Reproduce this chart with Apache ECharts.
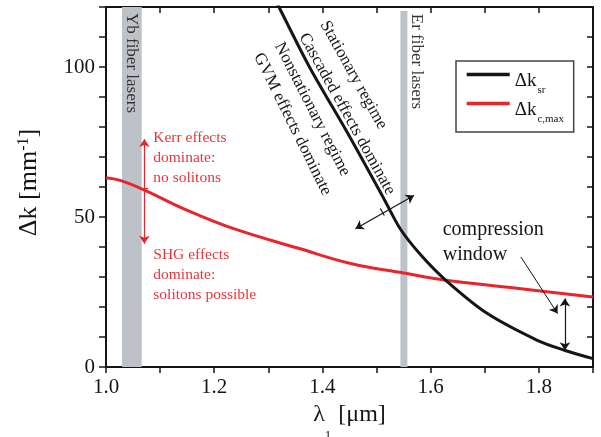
<!DOCTYPE html>
<html>
<head>
<meta charset="utf-8">
<script src="https://cdn.jsdelivr.net/npm/echarts@6/dist/echarts.min.js"></script>
<style>
html,body{margin:0;padding:0;background:#fff;}
#c{width:601px;height:437px;}
</style>
</head>
<body>
<div id="c"></div>
<script>
// ---- data ----
const lambdaSr = [1.30, 1.321, 1.376, 1.447, 1.515, 1.544, 1.5815, 1.628, 1.705, 1.797, 1.847, 1.9];
const dkSr     = [127, 119.5, 100, 77.8, 55.6, 46.0, 37.4, 28.9, 17.8, 8.9, 5.6, 2.8];
const lambdaC  = [1.0, 1.026, 1.072, 1.143, 1.236, 1.359, 1.452, 1.55, 1.628, 1.767, 1.9];
const dkCmax   = [63.1, 62.2, 58.9, 52.8, 46.1, 39.4, 34.5, 31.3, 28.9, 26.1, 23.3];
const xTicks = {min: 1.0, max: 1.9, step: 0.1};
const yTicks = {min: 0, max: 120, step: 10};
const bandYb = [1.0296, 1.066, 120];
const bandEr = [1.544, 1.557, 118.7];
const arrowCross = [[1.4611, 46.1], [1.5691, 57.2]];
const tickCross = [[1.5069, 52.83], [1.5143, 50.5]];
const arrowKerr = [[1.0709, 76], [1.0709, 41.1]];
const tickKerr = [[1.064, 59.6], [1.078, 59.6]];
const arrowWindow = [[1.8481, 22.8], [1.8481, 5.6]];
const arrowPointer = [[1.7667, 36.7], [1.8346, 17.8]];

const FONT = 'Liberation Serif';
const RED = '#e8252b';
const RED_TXT = '#e8353c';
const INK = '#151515';

const zip = (a, b) => a.map((v, i) => [v, b[i]]);

const chart = echarts.init(document.getElementById('c'), null, {renderer: 'canvas'});

const xLab = v => { const r = Math.round(v * 10); return r % 2 === 0 ? (r / 10).toFixed(1) : ''; };
const yLab = v => (Math.round(v) % 50 === 0 ? String(Math.round(v)) : '');

const option = {
  animation: false,
  backgroundColor: '#fff',
  grid: {left: 106, right: 8, top: 7, bottom: 70, containLabel: false, outerBoundsMode: 'none'},
  xAxis: [{
    type: 'value', position: 'bottom', min: xTicks.min, max: xTicks.max, interval: xTicks.step,
    axisLine: {onZero: false, lineStyle: {color: INK, width: 2}},
    axisTick: {inside: false, length: 6, lineStyle: {color: INK, width: 1.5}},
    axisLabel: {margin: 10, fontFamily: FONT, fontSize: 21, color: INK, formatter: xLab},
    splitLine: {show: false},
    name: '{a|λ}{s|1}{a| [μm]}', nameLocation: 'middle', nameGap: 32,
    nameTextStyle: {fontFamily: FONT, fontSize: 24, rich: {
      a: {fontFamily: FONT, fontSize: 24, lineHeight: 26, verticalAlign: 'top', color: INK},
      s: {fontFamily: FONT, fontSize: 13, lineHeight: 14, verticalAlign: 'top', padding: [26, 1, 0, 0], color: INK}
    }}
  }, {
    type: 'value', position: 'top', min: xTicks.min, max: xTicks.max, interval: xTicks.step,
    axisLine: {onZero: false, lineStyle: {color: INK, width: 2}},
    axisTick: {inside: true, length: 6, lineStyle: {color: INK, width: 1.5}},
    axisLabel: {show: false}, splitLine: {show: false}
  }],
  yAxis: [{
    type: 'value', position: 'left', min: yTicks.min, max: yTicks.max, interval: yTicks.step,
    axisLine: {onZero: false, lineStyle: {color: INK, width: 2}},
    axisTick: {inside: false, length: 7, lineStyle: {color: INK, width: 1.5}},
    axisLabel: {margin: 11, fontFamily: FONT, fontSize: 21, color: INK, formatter: yLab},
    splitLine: {show: false},
    name: '{a|Δk [mm}{p|-1}{a|]}', nameLocation: 'middle', nameRotate: 90, nameGap: 55,
    nameTextStyle: {fontFamily: FONT, fontSize: 26, padding: [0, 0, 0, 9], rich: {
      a: {fontFamily: FONT, fontSize: 26, lineHeight: 27, verticalAlign: 'bottom', color: INK},
      p: {fontFamily: FONT, fontSize: 16, lineHeight: 15, verticalAlign: 'top', padding: [0, 0, 21, 0], color: INK}
    }}
  }, {
    type: 'value', position: 'right', min: yTicks.min, max: yTicks.max, interval: yTicks.step,
    axisLine: {onZero: false, lineStyle: {color: INK, width: 2}},
    axisTick: {inside: true, length: 6, lineStyle: {color: INK, width: 1.5}},
    axisLabel: {show: false}, splitLine: {show: false}
  }],
  legend: {
    data: ['sr', 'cmax'], orient: 'vertical', left: 456, top: 61,
    icon: 'rect', itemWidth: 43, itemHeight: 3.5, itemGap: -3,
    padding: [2.5, 9.7, 7.5, 10.7],
    borderColor: '#444', borderWidth: 1.5, backgroundColor: '#fff',
    formatter: n => n === 'sr' ? '{a|Δk}{s|sr}' : '{a|Δk}{s|c,max}',
    textStyle: {fontFamily: FONT, fontSize: 18, rich: {
      a: {fontFamily: FONT, fontSize: 19, lineHeight: 22, verticalAlign: 'top', padding: [8, 0, 0, 0], color: INK},
      s: {fontFamily: FONT, fontSize: 11, lineHeight: 12, verticalAlign: 'top', padding: [21, 0, 0, 1], color: INK}
    }}
  },
  series: [
    {
      name: 'bands', type: 'line', data: [], z: 1, silent: true,
      markArea: {silent: true, itemStyle: {color: '#bdc2c8'}, data: [
        [{xAxis: bandYb[0], yAxis: 0}, {xAxis: bandYb[1], yAxis: bandYb[2]}],
        [{xAxis: bandEr[0], yAxis: 0}, {xAxis: bandEr[1], yAxis: bandEr[2]}]
      ]}
    },
    {
      name: 'cmax', type: 'line', data: zip(lambdaC, dkCmax), smooth: 0.4, symbol: 'none', z: 3,
      lineStyle: {color: RED, width: 3}, itemStyle: {color: RED}
    },
    {
      name: 'sr', type: 'line', data: zip(lambdaSr, dkSr), smooth: 0.3, symbol: 'none', z: 4,
      lineStyle: {color: INK, width: 3}, itemStyle: {color: INK}
    },
    {
      name: 'arrowsBlack', type: 'lines', coordinateSystem: 'cartesian2d', z: 5,
      symbol: ['arrow', 'arrow'], symbolSize: 8,
      lineStyle: {color: INK, width: 1.2, opacity: 1},
      data: [{coords: arrowCross}, {coords: arrowWindow}]
    },
    {
      name: 'arrowPointer', type: 'lines', coordinateSystem: 'cartesian2d', z: 5,
      symbol: ['none', 'arrow'], symbolSize: 8,
      lineStyle: {color: INK, width: 1, opacity: 1},
      data: [{coords: arrowPointer}]
    },
    {
      name: 'ticksBlack', type: 'lines', coordinateSystem: 'cartesian2d', z: 5,
      symbol: ['none', 'none'],
      lineStyle: {color: INK, width: 1.2, opacity: 1},
      data: [{coords: tickCross}]
    },
    {
      name: 'arrowRed', type: 'lines', coordinateSystem: 'cartesian2d', z: 5,
      symbol: ['arrow', 'arrow'], symbolSize: 8,
      lineStyle: {color: RED, width: 1.2, opacity: 1},
      data: [{coords: arrowKerr}, {coords: tickKerr, symbol: ['none', 'none']}]
    }
  ],
  graphic: [
    {type: 'text', x: 131.7, y: 63, rotation: -Math.PI / 2, z: 50,
      style: {text: 'Yb fiber lasers', font: '17px "Liberation Serif"', fill: '#333', align: 'center', verticalAlign: 'middle'}},
    {type: 'text', x: 416.7, y: 61.5, rotation: -Math.PI / 2, z: 50,
      style: {text: 'Er fiber lasers', font: '17px "Liberation Serif"', fill: '#333', align: 'center', verticalAlign: 'middle'}},
    {type: 'text', x: 353.5, y: 75, rotation: -1.063, z: 50,
      style: {text: 'Stationary regime', font: '17px "Liberation Serif"', fill: INK, align: 'center', verticalAlign: 'middle'}},
    {type: 'text', x: 347, y: 114, rotation: -1.066, z: 50,
      style: {text: 'Cascaded effects dominate', font: '17px "Liberation Serif"', fill: INK, align: 'center', verticalAlign: 'middle'}},
    {type: 'text', x: 312.2, y: 109.2, rotation: -1.098, z: 50,
      style: {text: 'Nonstationary regime', font: '17px "Liberation Serif"', fill: INK, align: 'center', verticalAlign: 'middle'}},
    {type: 'text', x: 292.5, y: 124.2, rotation: -1.112, z: 50,
      style: {text: 'GVM effects dominate', font: '17px "Liberation Serif"', fill: INK, align: 'center', verticalAlign: 'middle'}},
    {type: 'text', x: 153.3, y: 128, z: 50,
      style: {text: 'Kerr effects\ndominate:\nno solitons', font: '15.5px "Liberation Serif"', lineHeight: 20, fill: RED_TXT, align: 'left', verticalAlign: 'top'}},
    {type: 'text', x: 153.3, y: 245, z: 50,
      style: {text: 'SHG effects\ndominate:\nsolitons possible', font: '15.5px "Liberation Serif"', lineHeight: 20, fill: RED_TXT, align: 'left', verticalAlign: 'top'}},
    {type: 'text', x: 442.7, y: 217.5, z: 50,
      style: {text: 'compression\nwindow', font: '20px "Liberation Serif"', lineHeight: 25, fill: INK, align: 'left', verticalAlign: 'top'}}
  ]
};
chart.setOption(option);
</script>
</body>
</html>
